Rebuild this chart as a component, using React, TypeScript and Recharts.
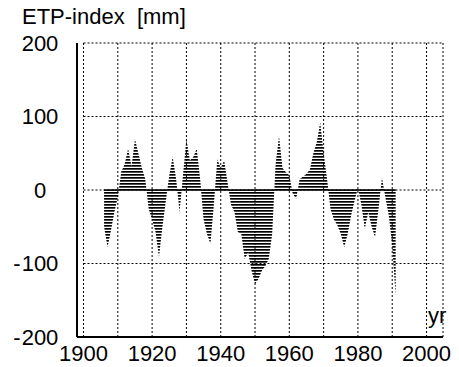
import {
  AreaChart,
  Area,
  XAxis,
  YAxis,
  CartesianGrid,
  ReferenceLine,
  Label,
} from 'recharts';

const years = [
  1906, 1907, 1908, 1909, 1910, 1911, 1912, 1913, 1914, 1915, 1916, 1917, 1918, 1919,
  1920, 1921, 1922, 1923, 1924, 1925, 1926, 1927, 1928, 1929, 1930, 1931, 1932, 1933,
  1934, 1935, 1936, 1937, 1938, 1939, 1940, 1941, 1942, 1943, 1944, 1945, 1946, 1947,
  1948, 1949, 1950, 1951, 1952, 1953, 1954, 1955, 1956, 1957, 1958, 1959, 1960, 1961,
  1962, 1963, 1964, 1965, 1966, 1967, 1968, 1969, 1970, 1971, 1972, 1973, 1974, 1975,
  1976, 1977, 1978, 1979, 1980, 1981, 1982, 1983, 1984, 1985, 1986, 1987, 1988, 1989,
  1990, 1991,
];

const etpIndex = [
  -50, -78, -55, -30, -10, 25, 35, 56, 32, 69, 50, 30, 15, -26,
  -40, -57, -91, -50, -15, 20, 45, 15, -30, 20, 69, 40, 45, 56,
  15, -40, -60, -73, -20, 42, 30, 40, 10, -20, -30, -57, -60, -94,
  -85, -110, -128, -121, -110, -103, -94, -60, 35, 73, 30, 24, 20, -5,
  -12, 15, 18, 22, 28, 50, 65, 92, 50, 15, -26, -40, -48, -60,
  -78, -60, -35, -15, 3, -20, -53, -30, -50, -64, -26, 17, -10, -35,
  -76, -144,
];

const xTicks = [1900, 1910, 1920, 1930, 1940, 1950, 1960, 1970, 1980, 1990, 2000];
const yTicks = [-200, -100, 0, 100, 200];
const gridLevels = [-100, 0, 100, 200];

const data = years.map((yr, i) => ({ yr, etp: etpIndex[i] }));

const font = '"Liberation Sans", Arial, sans-serif';
const fs = 22;

const YTick = ({ x, y, payload }: any) => {
  const v = payload.value as number;
  const abs = String(Math.abs(v));
  const w = abs.length * 0.556 * fs;
  return (
    <g>
      <text x={x} y={y} dy='0.355em' textAnchor='middle' fontSize={fs} fontFamily={font} fill='#000'>
        {abs}
      </text>
      {v < 0 && (
        <text x={x - w / 2 - 1} y={y} dy='0.355em' textAnchor='end' fontSize={fs} fontFamily={font} fill='#000'>
          -
        </text>
      )}
    </g>
  );
};

const YrLabel = ({ viewBox }: any) => (
  <text
    x={viewBox.x + viewBox.width - 15}
    y={viewBox.y - 14}
    fontSize={fs}
    fontFamily={font}
    fill='#000'
  >
    yr
  </text>
);

const App = () => {
  return (
    <div style={{ position: 'absolute', left: 0, top: 0, width: 459, height: 367, background: '#fff' }}>
      <div style={{ position: 'absolute', left: 22, top: 6, fontFamily: font, fontSize: fs, lineHeight: '22px', whiteSpace: 'pre' }}>
        {'ETP-index  [mm]'}
      </div>
      <AreaChart
        width={459}
        height={367}
        data={data}
        margin={{ top: 43, right: 16, bottom: 0, left: 0 }}
      >
        <defs>
          <pattern id='hatch' patternUnits='userSpaceOnUse' width={4} height={3}>
            <rect x={0} y={0} width={4} height={1.7} fill='#000' />
          </pattern>
        </defs>
        <CartesianGrid horizontal={false} stroke='#000' strokeDasharray='2 2' />
        {gridLevels.map((v) => (
          <ReferenceLine
            key={v}
            segment={[{ x: 1900, y: v }, { x: 2004.8, y: v }]}
            stroke='#000'
            strokeDasharray='2 2'
          />
        ))}
        <XAxis
          dataKey='yr'
          type='number'
          domain={[1898.1, 2004.8]}
          ticks={xTicks}
          tickFormatter={(v: number) => (v % 20 === 0 ? String(v) : '')}
          allowDataOverflow
          height={30}
          tickSize={0}
          tickMargin={8}
          tickLine={false}
          axisLine={{ stroke: '#000', strokeWidth: 2 }}
          tick={{ fill: '#000', fontSize: fs, fontFamily: font }}
          interval={0}
        >
          <Label content={<YrLabel />} />
        </XAxis>
        <YAxis
          domain={[-200, 200]}
          ticks={yTicks}
          width={77}
          tickSize={0}
          tickMargin={37}
          tickLine={false}
          axisLine={{ stroke: '#000', strokeWidth: 2 }}
          tick={<YTick />}
          interval={0}
        />
        <Area
          type='linear'
          dataKey='etp'
          baseValue={0}
          stroke='none'
          fill='url(#hatch)'
          fillOpacity={1}
          isAnimationActive={false}
        />
        <ReferenceLine
          segment={[{ x: years[0], y: 0 }, { x: years[years.length - 1], y: 0 }]}
          stroke='#000'
          strokeWidth={1.5}
        />
      </AreaChart>
    </div>
  );
};

export default App;
